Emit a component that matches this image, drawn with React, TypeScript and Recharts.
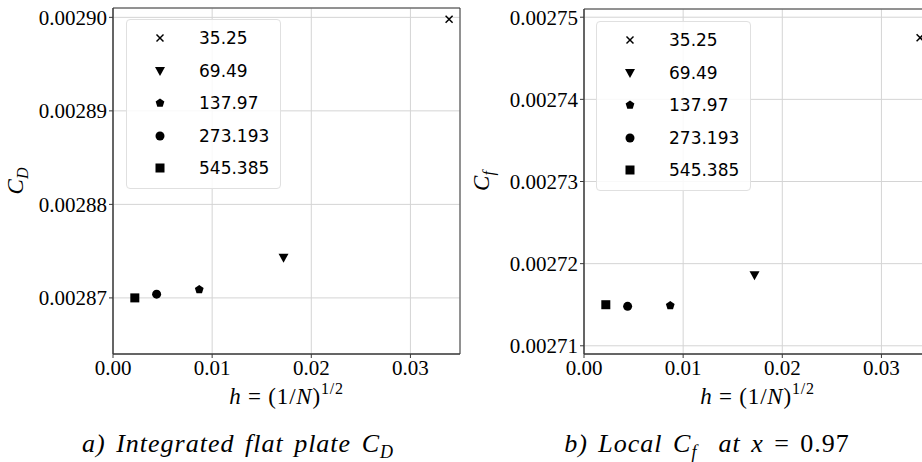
import React from "react";
import { ScatterChart, Scatter, XAxis, YAxis, CartesianGrid, Legend, ReferenceArea } from "recharts";

// grid spacing h for each N, and the two measured coefficients
const hValues = [0.0339, 0.0172, 0.0087, 0.0044, 0.0022];
const seriesNames = ["35.25", "69.49", "137.97", "273.193", "545.385"];
const markerKinds = ["x", "triangleDown", "pentagon", "circle", "square"];
const cdValues = [0.0028998, 0.0028743, 0.0028709, 0.0028704, 0.00287];
const cfValues = [0.0027475, 0.0027186, 0.0027149, 0.0027148, 0.002715];

const xTicks = [0, 0.01, 0.02, 0.03];
const cdTicks = [0.00287, 0.00288, 0.00289, 0.0029];
const cfTicks = [0.00271, 0.00272, 0.00273, 0.00274, 0.00275];

const SERIF = "'Liberation Serif', 'DejaVu Serif', serif";
const SANS = "'DejaVu Sans', sans-serif";
const AXIS = "#3a3a3a";

const Marker = ({ kind, cx, cy }: { kind: string; cx: number; cy: number }) => {
  if (kind === "x") {
    const s = 3.5;
    return (
      <g stroke="#000" strokeWidth={1.5}>
        <line x1={cx - s} y1={cy - s} x2={cx + s} y2={cy + s} />
        <line x1={cx - s} y1={cy + s} x2={cx + s} y2={cy - s} />
      </g>
    );
  }
  if (kind === "triangleDown") {
    return <polygon points={`${cx - 5},${cy - 4} ${cx + 5},${cy - 4} ${cx},${cy + 5}`} fill="#000" />;
  }
  if (kind === "pentagon") {
    const r = 4.6;
    const pts = [0, 1, 2, 3, 4]
      .map((k) => {
        const a = ((-90 + 72 * k) * Math.PI) / 180;
        return `${cx + r * Math.cos(a)},${cy + r * Math.sin(a)}`;
      })
      .join(" ");
    return <polygon points={pts} fill="#000" />;
  }
  if (kind === "circle") {
    return <circle cx={cx} cy={cy} r={4.5} fill="#000" />;
  }
  return <rect x={cx - 4.5} y={cy - 4.5} width={9} height={9} fill="#000" />;
};

const LegendBox = () => (
  <div
    style={{
      width: 155,
      height: 170,
      boxSizing: "border-box",
      background: "rgba(255,255,255,0.85)",
      border: "1px solid #e0e0e0",
      borderRadius: 4,
      paddingTop: 2,
      fontFamily: SANS,
      fontSize: 17,
      color: "#000",
    }}
  >
    {seriesNames.map((name, i) => (
      <div key={name} style={{ height: 32.5, display: "flex", alignItems: "center", position: "relative" }}>
        <svg width={14} height={14} style={{ position: "absolute", left: 26 }}>
          <Marker kind={markerKinds[i]} cx={7} cy={7} />
        </svg>
        <span style={{ position: "absolute", left: 72 }}>{name}</span>
      </div>
    ))}
  </div>
);

const XLabel = ({ viewBox }: any) => {
  const cx = viewBox.x + viewBox.width / 2;
  return (
    <text x={cx} y={viewBox.y + 50} textAnchor="middle" fontFamily={SERIF} fontSize={23} letterSpacing={0.8} fill="#000">
      <tspan fontStyle="italic">h</tspan>
      <tspan> = (1/</tspan>
      <tspan fontStyle="italic">N</tspan>
      <tspan>)</tspan>
      <tspan fontSize={16} dy={-10}>1/2</tspan>
    </text>
  );
};

const makeYLabel = (sub: string, dx: number) => ({ viewBox }: any) => {
  const x = viewBox.x + dx;
  const y = 181;
  return (
    <text x={x} y={y} transform={`rotate(-90, ${x}, ${y})`} textAnchor="middle" fontFamily={SERIF} fontSize={23} fill="#000">
      <tspan fontStyle="italic">C</tspan>
      <tspan fontStyle="italic" fontSize={16} dy={5}>{sub}</tspan>
    </text>
  );
};

type PanelProps = {
  values: number[];
  yTicks: number[];
  yDomain: [number, number];
  sub: string;
  left: number;
  top: number;
  yWidth: number;
  legendTop: number;
  labelDx: number;
};

const Panel = ({ values, yTicks, yDomain, sub, left, top, yWidth, legendTop, labelDx }: PanelProps) => (
  <div style={{ position: "absolute", left, top: 0 }}>
    <ScatterChart width={470} height={420} margin={{ top, right: 470 - yWidth - 347, bottom: 6, left: 0 }}>
      <CartesianGrid stroke="#d4d4d4" />
      <ReferenceArea x1={0} x2={0.035} y1={yDomain[0]} y2={yDomain[1]} fill="none" stroke={AXIS} strokeWidth={1} />
      <XAxis
        type="number"
        dataKey="h"
        domain={[0, 0.035]}
        ticks={xTicks}
        allowDataOverflow
        height={60}
        tickSize={4}
        tickMargin={2}
        stroke={AXIS}
        tick={{ fill: "#000", fontFamily: SERIF, fontSize: 21 }}
        tickFormatter={(v: number) => v.toFixed(2)}
        label={<XLabel />}
      />
      <YAxis
        type="number"
        dataKey="v"
        domain={yDomain}
        ticks={yTicks}
        allowDataOverflow
        width={yWidth}
        tickSize={4}
        tickMargin={2}
        stroke={AXIS}
        tick={{ fill: "#000", fontFamily: SERIF, fontSize: 21 }}
        tickFormatter={(v: number) => v.toFixed(5)}
        label={React.createElement(makeYLabel(sub, labelDx))}
      />
      <Legend
        layout="vertical"
        align="center"
        verticalAlign="middle"
        wrapperStyle={{ top: legendTop, left: 126, width: 155, height: 170 }}
        content={() => <LegendBox />}
      />
      {seriesNames.map((name, i) => (
        <Scatter
          key={name}
          name={name}
          data={[{ h: hValues[i], v: values[i] }]}
          isAnimationActive={false}
          shape={(p: any) => <Marker kind={markerKinds[i]} cx={p.cx} cy={p.cy} />}
        />
      ))}
    </ScatterChart>
  </div>
);

const captionStyle: React.CSSProperties = {
  position: "absolute",
  top: 429,
  fontFamily: SERIF,
  fontSize: 26,
  letterSpacing: 1,
  wordSpacing: 3,
  color: "#000",
  whiteSpace: "nowrap",
  transform: "translateX(-50%)",
};

const App: React.FC = () => {
  return (
    <div style={{ position: "fixed", left: 0, top: 0, width: 922, height: 462, overflow: "hidden", background: "#fff" }}>
      <Panel values={cdValues} yTicks={cdTicks} yDomain={[0.002864, 0.002901]} sub="D" left={0} top={8} yWidth={113} legendTop={19} labelDx={23} />
      <Panel values={cfValues} yTicks={cfTicks} yDomain={[0.002709, 0.002751]} sub="f" left={470} top={9} yWidth={114} legendTop={21} labelDx={19} />
      <div style={{ ...captionStyle, left: 238 }}>
        <i>a) Integrated flat plate C</i>
        <sub style={{ fontStyle: "italic", fontSize: 18 }}>D</sub>
      </div>
      <div style={{ ...captionStyle, left: 707 }}>
        <i>b) Local C</i>
        <sub style={{ fontStyle: "italic", fontSize: 18 }}>f</sub>
        <i>&nbsp; at x</i> = 0.97
      </div>
    </div>
  );
};

export default App;
